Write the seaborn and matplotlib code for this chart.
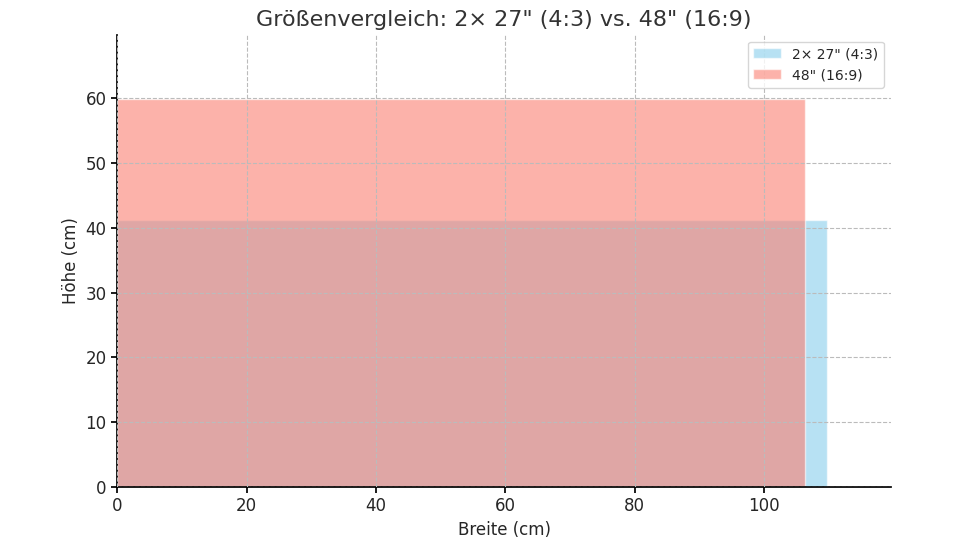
import matplotlib
matplotlib.use("Agg")
import matplotlib.pyplot as plt
import seaborn as sns

labels = ['2× 27" (4:3)', '48" (16:9)']
widths = [109.7, 106.3]
heights = [41.2, 59.8]
colors = ['skyblue', 'salmon']

sns.set_theme(style="white")
plt.rcParams['font.family'] = ['DejaVu Sans']

fig = plt.figure(figsize=(9.6, 5.4), dpi=100)
ax = fig.add_axes([0.122, 0.098, 0.806, 0.838])

for lab, w, h, c in zip(labels, widths, heights, colors):
    ax.bar(0, h, width=w, align='edge', color=c, alpha=0.6, label=lab)

ax.set_xlim(0, 119.6)
ax.set_ylim(0, 69.8)
ax.set_xticks([0, 20, 40, 60, 80, 100])
ax.set_yticks([0, 10, 20, 30, 40, 50, 60])
ax.grid(True, linestyle='--', color='#bbbbbb', linewidth=0.8)
ax.set_axisbelow(False)
for s in ['top', 'right']:
    ax.spines[s].set_visible(False)
for s in ['left', 'bottom']:
    ax.spines[s].set_color('black')
ax.tick_params(axis='both', labelsize=12, left=True, bottom=True, length=4, color='black')
ax.set_xlabel('Breite (cm)', fontsize=12)
ax.set_ylabel('Höhe (cm)', fontsize=12)
ax.set_title('Größenvergleich: 2× 27" (4:3) vs. 48" (16:9)', fontsize=16, color='#333333')
ax.legend(loc='upper right', fontsize=10)

fig.savefig('out.png', dpi=100)
